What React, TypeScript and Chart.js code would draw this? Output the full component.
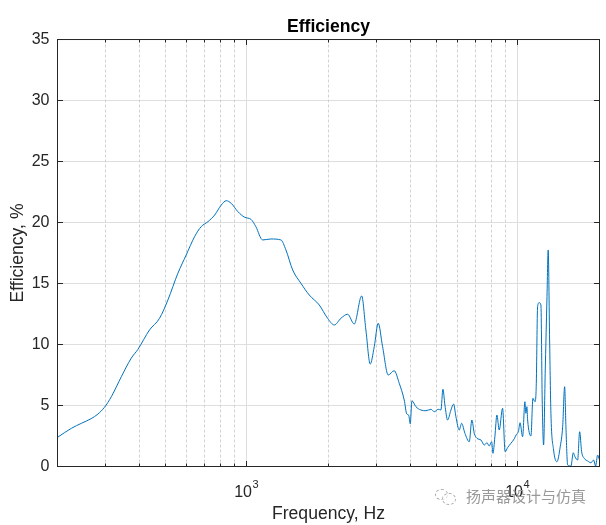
import React, { useEffect, useRef } from 'react';
import { Chart, registerables } from 'chart.js';

Chart.register(...registerables);

// Frequency (Hz) and efficiency (%)
const frequencyHz = [
  200, 225, 245, 266, 282, 298, 316, 344, 374, 396, 437, 476, 511, 556, 597, 641, 678, 718, 760, 804,
  839, 875, 926, 981, 1035, 1079, 1143, 1226, 1335, 1393, 1475, 1582, 1698, 1849, 1985, 2100, 2223, 2353, 2489, 2651,
  2748, 2851, 2950, 3051, 3167, 3322, 3495, 3648, 3806, 3890, 3952, 4006, 4064, 4204, 4386, 4576, 4775, 4912, 5080, 5198,
  5287, 5378, 5502, 5660, 5790, 5905, 6073, 6198, 6375, 6613, 6761, 6900, 7060, 7305, 7513, 7686, 7834, 8000, 8087, 8222,
  8365, 8530, 8778, 8970, 9162, 9420, 9692, 9857, 10050, 10180, 10407, 10612, 10700, 10793, 10860, 11170, 11360, 11553, 11682, 11820,
  11982, 12158, 12293, 12437, 12607, 12794, 12933, 13091, 13236, 13541, 13928, 14325, 14625, 14873, 15035, 15260, 15694, 16004, 16235, 16610,
  16896, 17183, 17570, 18085, 18596, 19026, 19354, 19683, 20000,
];
const efficiencyPct = [
  2.39, 3.13, 3.54, 3.92, 4.3, 4.85, 5.72, 7.36, 8.87, 9.6, 11.19, 12.15, 13.65, 15.83, 17.34, 18.84, 19.66, 20.07, 20.61, 21.43,
  21.79, 21.57, 20.89, 20.43, 20.26, 19.66, 18.57, 18.65, 18.57, 17.75, 16.11, 15.02, 14.06, 13.24, 12.15, 11.6, 12.15, 12.48, 11.68, 13.98,
  11.19, 8.4, 9.82, 11.74, 9.82, 7.5, 7.85, 6.82, 5.45, 4.3, 4.22, 3.5, 5.39, 4.9, 4.63, 4.57, 4.69, 4.49, 4.69, 4.63,
  6.33, 5.04, 3.81, 4.63, 5.12, 4.08, 2.99, 3.54, 2.72, 2.03, 3.81, 2.72, 2.31, 2.17, 1.76, 1.95, 1.68, 2.03, 1.08, 2.44,
  4.22, 2.99, 4.77, 1.21, 1.55, 1.9, 2.27, 2.6, 2.9, 3.59, 2.44, 5.31, 4.36, 4.9, 3.81, 2.5, 5.59, 5.31, 6.54, 13.1,
  13.43, 13.24, 5.45, 1.76, 7.64, 13.65, 17.75, 10.37, 4.36, 1.35, 0.39, 1.62, 3.26, 6.54, 3.26, 0.12, 0.04, 1.13, 0.8, 0.53,
  2.85, 1.21, 0.67, 0.45, 0.31, 0.53, 0.04, 0.94, 0.53,
];

const yTicks = [0, 5, 10, 15, 20, 25, 30, 35];
const xMajorTicks = [1000, 10000];
const xTickBase = ['10', '10'];
const xTickExponents = ['3', '4'];
const xMinorTicks = [300, 400, 500, 600, 700, 800, 900, 2000, 3000, 4000, 5000, 6000, 7000, 8000, 9000];

const FONT = '"Liberation Sans", Arial, Helvetica, sans-serif';
const AXIS_COLOR = '#262626';

export default function App() {
  const canvasRef = useRef<HTMLCanvasElement>(null);

  useEffect(() => {
    document.body.style.margin = '0';
    const canvas = canvasRef.current;
    if (!canvas) return;

    const align = (v: number) => Math.round(v - 0.5) + 0.5;

    const matlabAxes = {
      id: 'matlabAxes',
      beforeDatasetsDraw(chart: any) {
        const { ctx, chartArea } = chart;
        const xs = chart.scales.x;
        ctx.save();
        ctx.strokeStyle = '#d2d2d2';
        ctx.lineWidth = 1;
        ctx.setLineDash([3, 2]);
        xMinorTicks.forEach((v) => {
          const px = align(xs.getPixelForValue(v));
          ctx.beginPath();
          ctx.moveTo(px, chartArea.top);
          ctx.lineTo(px, chartArea.bottom);
          ctx.stroke();
        });
        ctx.restore();
      },
      afterDatasetsDraw(chart: any) {
        const { ctx, chartArea } = chart;
        const xs = chart.scales.x;
        const ys = chart.scales.y;
        const { left, right, top, bottom } = chartArea;
        ctx.save();
        ctx.strokeStyle = AXIS_COLOR;
        ctx.lineWidth = 1;
        ctx.setLineDash([]);
        ctx.beginPath();
        const tick = (vals: number[], len: number) => {
          vals.forEach((v) => {
            const px = align(xs.getPixelForValue(v));
            ctx.moveTo(px, bottom);
            ctx.lineTo(px, bottom - len);
            ctx.moveTo(px, top);
            ctx.lineTo(px, top + len);
          });
        };
        tick(xMajorTicks, 5.5);
        tick(xMinorTicks, 3);
        yTicks.forEach((v) => {
          const py = align(ys.getPixelForValue(v));
          ctx.moveTo(left, py);
          ctx.lineTo(left + 5.5, py);
          ctx.moveTo(right, py);
          ctx.lineTo(right - 5.5, py);
        });
        ctx.stroke();
        ctx.strokeRect(left, top, right - left, bottom - top);

        // x tick labels with superscript exponents (10^3, 10^4)
        ctx.fillStyle = AXIS_COLOR;
        ctx.textBaseline = 'alphabetic';
        ctx.textAlign = 'left';
        xMajorTicks.forEach((v, i) => {
          const px = xs.getPixelForValue(v);
          ctx.font = `16px ${FONT}`;
          ctx.fillText(xTickBase[i], px - 12.7, bottom + 30.2);
          ctx.font = `11px ${FONT}`;
          ctx.fillText(xTickExponents[i], px + 5.5, bottom + 21.8);
        });
        ctx.restore();
      },
    };

    const chart = new Chart(canvas, {
      type: 'line',
      data: {
        datasets: [
          {
            data: frequencyHz.map((f, i) => ({ x: f, y: efficiencyPct[i] })),
            borderColor: '#0072BD',
            borderWidth: 1,
            pointRadius: 0,
            fill: false,
            cubicInterpolationMode: 'monotone',
          },
        ],
      },
      options: {
        animation: false,
        responsive: false,
        maintainAspectRatio: false,
        layout: { padding: { left: 0, right: 6.5, top: 0, bottom: 0 } },
        plugins: {
          legend: { display: false },
          tooltip: { enabled: false },
          title: {
            display: true,
            text: 'Efficiency',
            color: '#000',
            fullSize: false,
            font: { family: FONT, size: 17.6, weight: 'bold' },
            padding: { top: 16.5, bottom: 1.9 },
          },
        },
        scales: {
          x: {
            type: 'logarithmic',
            min: 200,
            max: 20000,
            afterBuildTicks: (s: any) => {
              s.ticks = xMajorTicks.map((v) => ({ value: v, major: true }));
            },
            afterFit: (s: any) => {
              s.height = 58.5;
            },
            ticks: {
              display: false,
              autoSkip: false,
              maxRotation: 0,
            },
            grid: { color: '#dedede', lineWidth: 1, drawTicks: false },
            border: { display: false },
            title: {
              display: true,
              text: 'Frequency, Hz',
              color: AXIS_COLOR,
              font: { family: FONT, size: 17.6 },
              padding: { top: 0, bottom: 0.6 },
            },
          },
          y: {
            type: 'linear',
            min: 0,
            max: 35,
            afterBuildTicks: (s: any) => {
              s.ticks = yTicks.map((v) => ({ value: v }));
            },
            afterFit: (s: any) => {
              s.width = 57.5;
            },
            ticks: {
              padding: 8,
              color: AXIS_COLOR,
              font: { family: FONT, size: 16 },
            },
            grid: { color: '#dedede', lineWidth: 1, drawTicks: false },
            border: { display: false },
            title: {
              display: true,
              text: 'Efficiency, %',
              color: AXIS_COLOR,
              font: { family: FONT, size: 17.6 },
              padding: { top: 7.2, bottom: 0 },
            },
          },
        },
      },
      plugins: [matlabAxes],
    } as any);

    return () => chart.destroy();
  }, []);

  return (
    <div style={{ position: 'relative', width: 606, height: 525, background: '#fff' }}>
      <canvas ref={canvasRef} width={606} height={525} style={{ display: 'block' }} />
      <div style={{ position: 'absolute', left: 435, top: 489, width: 11, height: 9, border: '1.2px dashed #aaa', borderRadius: '50%' }} />
      <div style={{ position: 'absolute', left: 442, top: 493, width: 12, height: 10, border: '1.2px dashed #aaa', borderRadius: '50%', background: 'rgba(255,255,255,0.6)' }} />
      <span
        style={{
          position: 'absolute',
          left: 466,
          top: 487,
          fontFamily: '"Noto Sans CJK SC", sans-serif',
          fontSize: 15,
          lineHeight: '17px',
          color: '#999',
          whiteSpace: 'nowrap',
        }}
      >
        扬声器设计与仿真
      </span>
    </div>
  );
}
